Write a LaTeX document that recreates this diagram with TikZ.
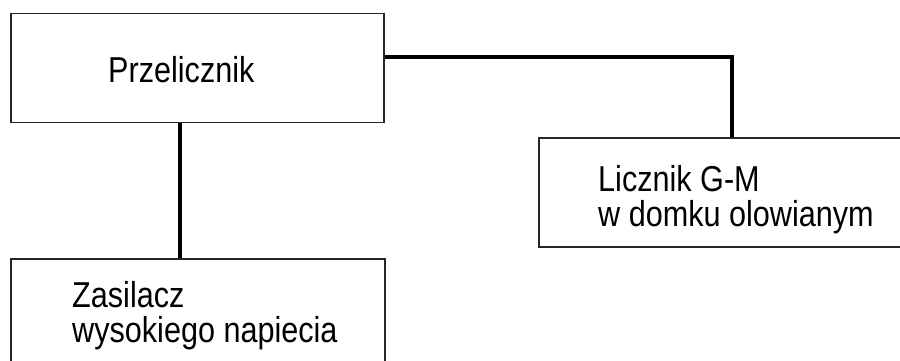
\documentclass[tikz,border=0pt]{standalone}
\usepackage{fontspec}
\setmainfont{Liberation Sans}[FakeStretch=0.85]
\begin{document}
\begin{tikzpicture}[x=1pt,y=-1pt,
  box/.style={draw=black!85,line width=1.6pt,rectangle,inner sep=0pt,anchor=north west},
  label/.style={inner sep=0pt,anchor=base west,font=\fontsize{36}{35}\selectfont},
  wire/.style={draw=black,line width=3.2pt}]
\useasboundingbox (0,0) rectangle (900,360);
\clip (0,0) rectangle (900,360);
\fill[white] (0,0) rectangle (900,360);
% boxes
\node[box,minimum width=373pt,minimum height=109pt] (prz) at (10,12.5) {};
\node[box,minimum width=380pt,minimum height=109pt] (lic) at (538,137) {};
\node[box,minimum width=374pt,minimum height=130pt] (zas) at (10,258) {};
% texts
\node[label] (t1) at (108,82) {Przelicznik};
\node[label] (t2) at (598,191) {Licznik G-M};
\node[label] (t3) at (598,226) {w domku olowianym};
\node[label] (t4) at (72,307) {Zasilacz};
\node[label] (t5) at (72,342) {wysokiego napiecia};
% connectors
\coordinate (corner) at (732,57);
\draw[wire] (prz.east |- corner) -- (corner) -- (corner |- lic.north);
\draw[wire] (prz.south -| 180,0) -- (zas.north -| 180,0);
\end{tikzpicture}
\end{document}
